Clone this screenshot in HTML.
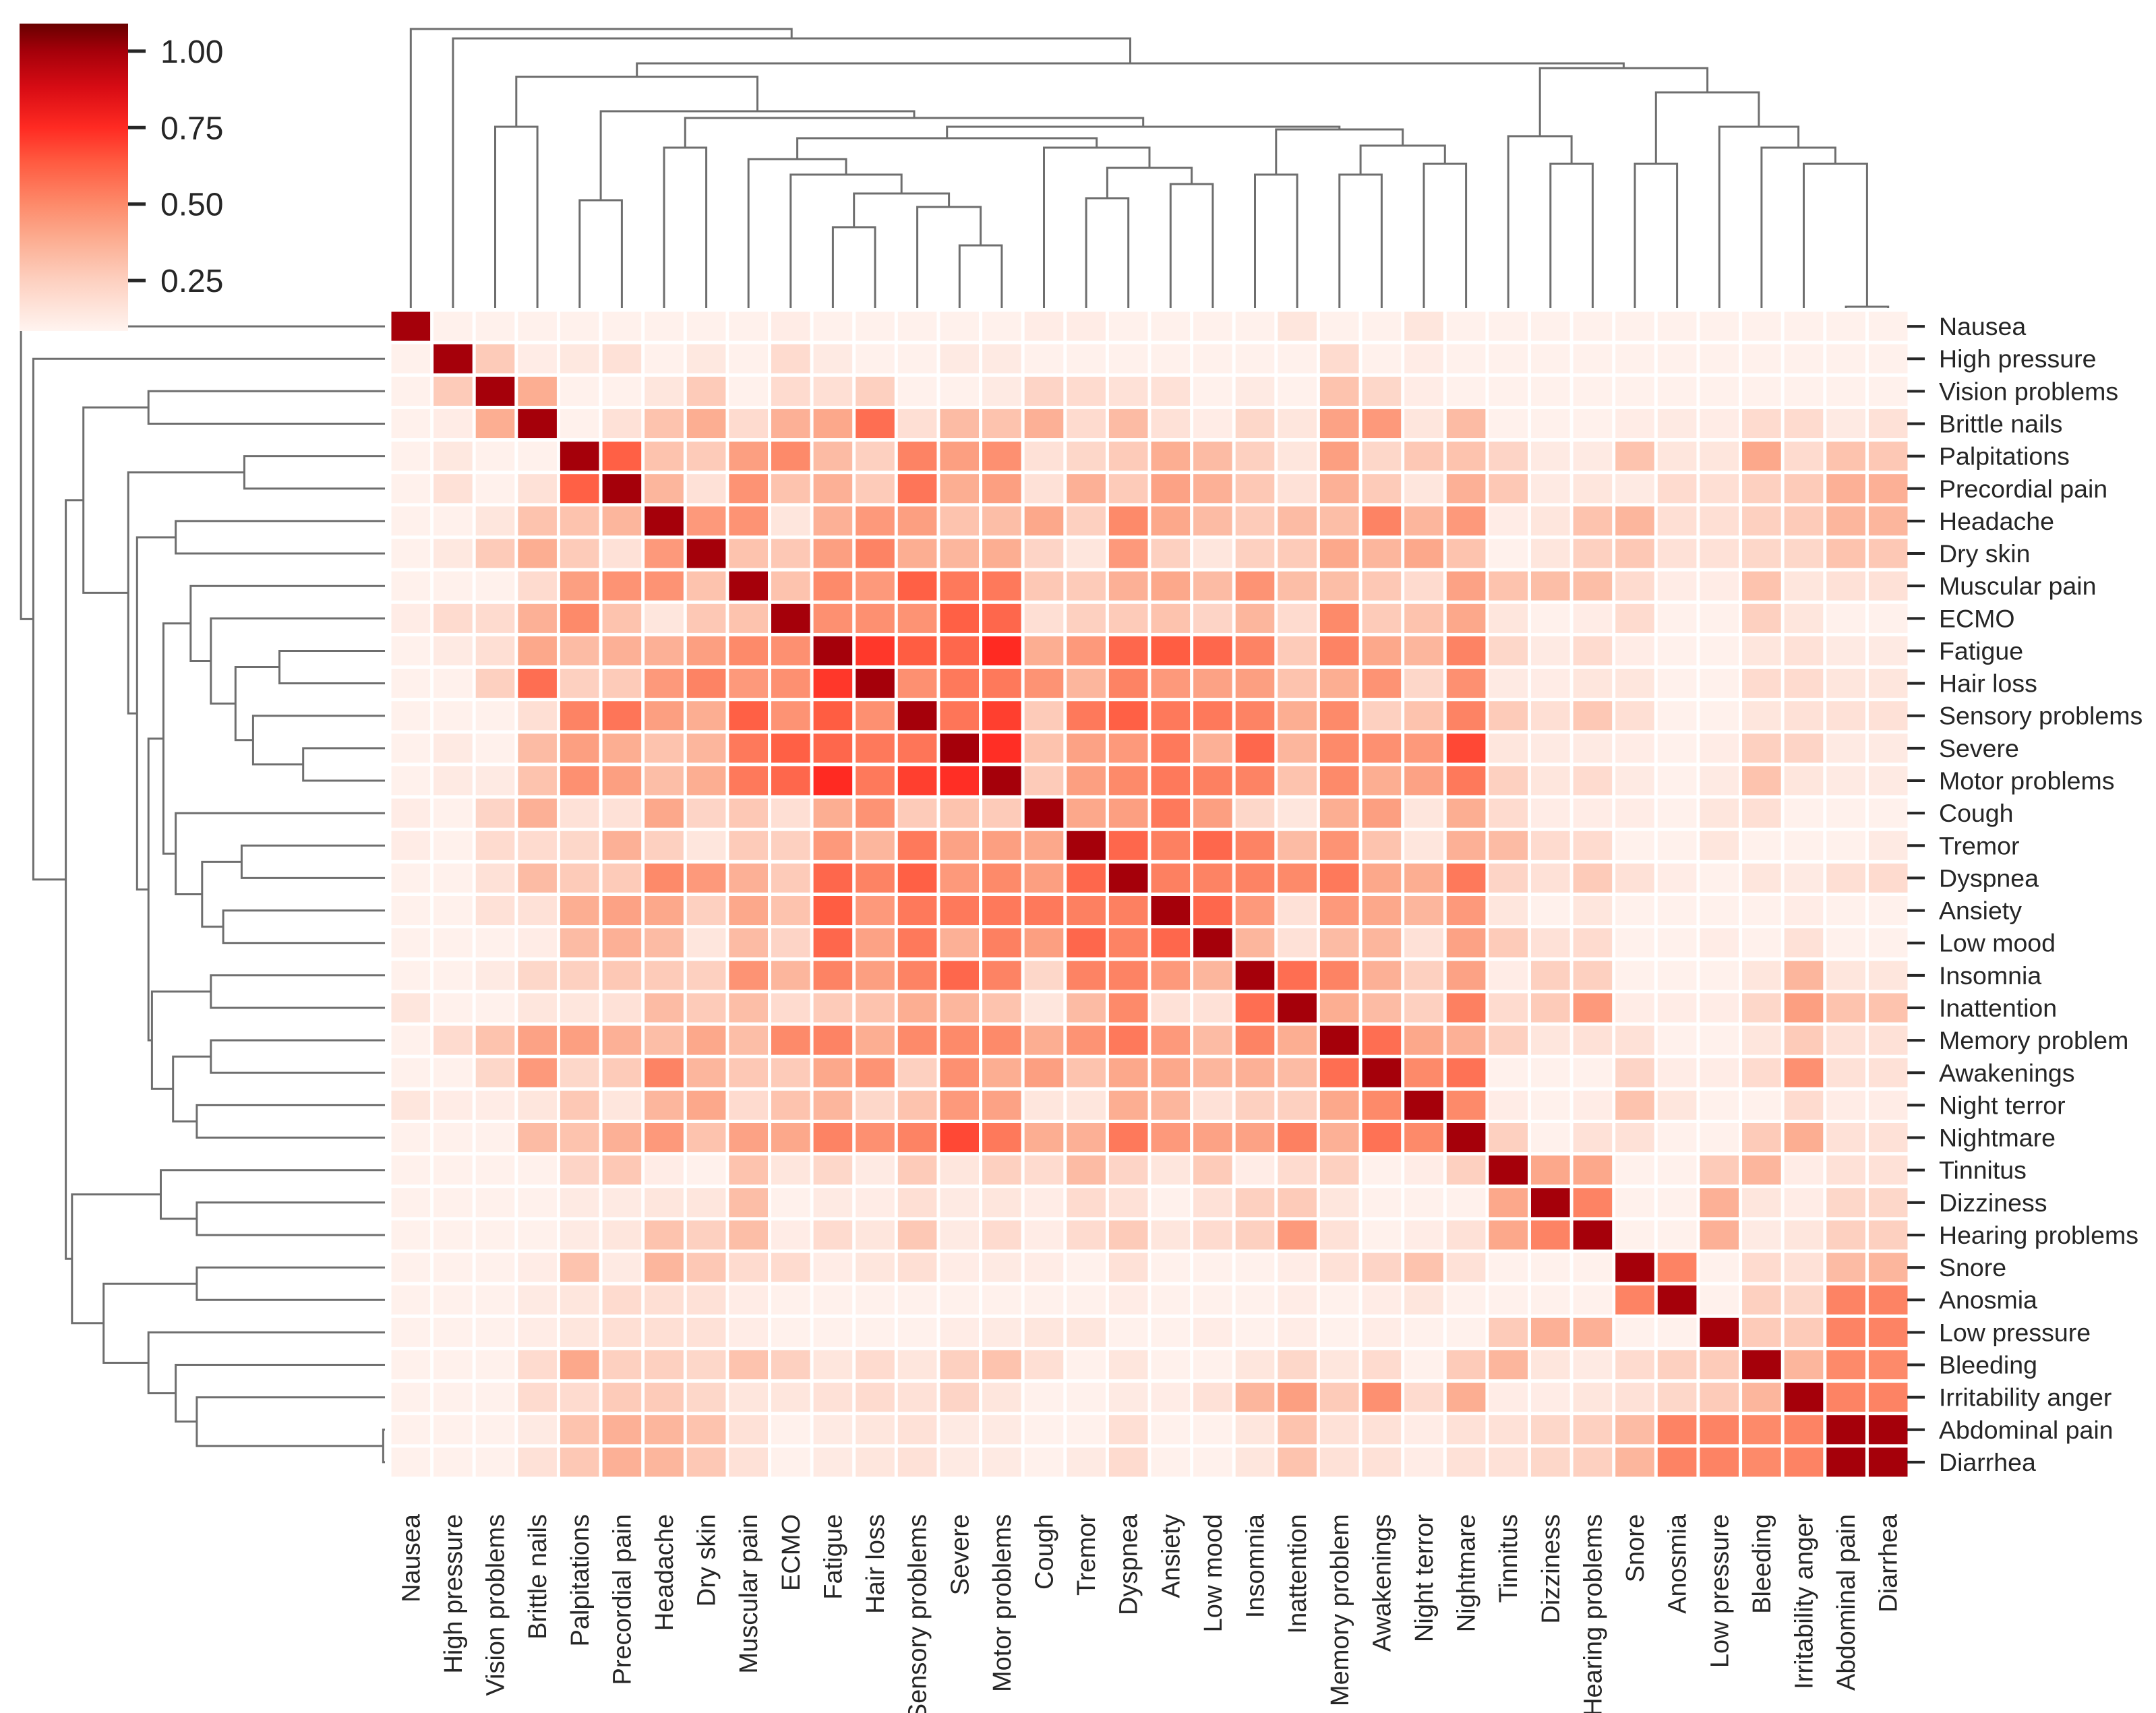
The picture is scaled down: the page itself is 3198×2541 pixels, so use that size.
<!DOCTYPE html>
<html><head><meta charset="utf-8"><title>Clustered correlation heatmap</title>
<style>
html,body{margin:0;padding:0;background:#fff;}
svg{display:block;font-family:"Liberation Sans",Arial,sans-serif;}
</style></head>
<body>
<svg id="chart" width="3198" height="2541" viewBox="0 0 3198 2541" xmlns="http://www.w3.org/2000/svg">
<defs>
<linearGradient id="cbgrad" x1="0" y1="1" x2="0" y2="0">
<stop offset="0" stop-color="#fff4f0"/>
<stop offset="0.164" stop-color="#fdd0c0"/>
<stop offset="0.30" stop-color="#fcac90"/>
<stop offset="0.413" stop-color="#fd8a6a"/>
<stop offset="0.55" stop-color="#ff5a40"/>
<stop offset="0.662" stop-color="#ff2a22"/>
<stop offset="0.79" stop-color="#d80c14"/>
<stop offset="0.91" stop-color="#a5000a"/>
<stop offset="1" stop-color="#680000"/>
</linearGradient>
</defs>
<g id="dendro-top"></g>
<g id="dendro-left"></g>
<g id="cells"></g>
<g id="rowlabels"></g>
<g id="collabels"></g>
<g id="colorbar"></g>
</svg>
<script>
const labels = ["Nausea","High pressure","Vision problems","Brittle nails","Palpitations","Precordial pain","Headache","Dry skin","Muscular pain","ECMO","Fatigue","Hair loss","Sensory problems","Severe","Motor problems","Cough","Tremor","Dyspnea","Ansiety","Low mood","Insomnia","Inattention","Memory problem","Awakenings","Night terror","Nightmare","Tinnitus","Dizziness","Hearing problems","Snore","Anosmia","Low pressure","Bleeding","Irritability anger","Abdominal pain","Diarrhea"];

const lowerRows = [
[],
[.10],
[.10,.27],
[.10,.12,.38],
[.10,.14,.10,.10],
[.10,.17,.10,.17,.62],
[.10,.10,.15,.30,.30,.35],
[.10,.14,.27,.38,.27,.17,.45],
[.10,.10,.10,.20,.43,.47,.47,.30],
[.12,.20,.20,.37,.50,.30,.15,.28,.30],
[.10,.13,.18,.40,.33,.37,.37,.43,.50,.48],
[.10,.10,.25,.58,.25,.27,.45,.52,.45,.48,.72],
[.10,.10,.10,.18,.52,.56,.43,.38,.62,.47,.63,.48],
[.10,.13,.10,.33,.43,.38,.30,.35,.55,.62,.60,.55,.56],
[.10,.13,.13,.30,.48,.43,.32,.38,.55,.60,.75,.55,.70,.74],
[.12,.10,.23,.37,.17,.17,.40,.23,.28,.18,.38,.47,.27,.30,.27],
[.12,.10,.20,.20,.22,.37,.25,.15,.27,.25,.45,.35,.55,.42,.43,.40],
[.10,.10,.17,.33,.27,.27,.50,.45,.37,.27,.60,.52,.62,.45,.50,.43,.60],
[.10,.10,.17,.17,.38,.42,.40,.25,.40,.30,.63,.45,.55,.55,.55,.55,.53,.53],
[.10,.10,.10,.12,.33,.37,.33,.15,.33,.23,.60,.42,.55,.37,.53,.43,.60,.52,.60],
[.10,.10,.13,.22,.25,.28,.27,.25,.47,.35,.52,.43,.52,.60,.52,.22,.52,.52,.45,.35],
[.15,.10,.10,.15,.15,.17,.33,.27,.32,.20,.27,.30,.38,.35,.30,.15,.33,.50,.17,.17,.58],
[.10,.20,.30,.42,.43,.37,.32,.40,.32,.50,.52,.38,.50,.50,.50,.38,.47,.55,.45,.33,.52,.38],
[.10,.10,.22,.45,.22,.27,.52,.35,.28,.27,.40,.47,.25,.48,.38,.43,.30,.40,.40,.35,.37,.33,.58],
[.15,.12,.12,.15,.28,.15,.35,.40,.20,.30,.35,.22,.30,.45,.42,.15,.15,.38,.35,.17,.25,.25,.40,.50],
[.10,.10,.10,.33,.30,.37,.45,.30,.42,.40,.52,.48,.52,.68,.55,.38,.37,.55,.45,.42,.42,.53,.37,.57,.50],
[.10,.10,.10,.10,.23,.28,.12,.10,.30,.15,.22,.13,.27,.15,.25,.20,.33,.23,.15,.27,.12,.20,.25,.10,.12,.25],
[.10,.10,.10,.10,.13,.13,.15,.15,.32,.10,.13,.12,.18,.13,.15,.12,.20,.17,.10,.17,.25,.27,.15,.10,.10,.10,.40],
[.10,.10,.10,.10,.13,.15,.30,.25,.32,.12,.20,.15,.28,.13,.20,.12,.20,.27,.15,.20,.25,.45,.17,.10,.12,.17,.40,.52],
[.10,.10,.10,.12,.30,.13,.35,.28,.20,.20,.12,.15,.18,.12,.13,.12,.10,.17,.10,.10,.10,.12,.17,.23,.30,.17,.10,.10,.10],
[.10,.10,.10,.13,.15,.20,.18,.17,.12,.10,.10,.10,.10,.10,.10,.10,.10,.12,.10,.10,.10,.12,.10,.12,.15,.10,.10,.10,.10,.52],
[.10,.10,.10,.12,.15,.18,.18,.17,.12,.10,.10,.10,.10,.12,.13,.15,.15,.10,.10,.12,.10,.12,.10,.12,.10,.10,.27,.37,.37,.10,.10],
[.10,.10,.10,.20,.40,.25,.25,.22,.30,.25,.15,.20,.15,.25,.30,.18,.10,.15,.10,.10,.15,.22,.15,.20,.10,.27,.35,.15,.13,.20,.25,.27],
[.10,.10,.10,.20,.20,.27,.27,.22,.15,.15,.17,.20,.17,.23,.15,.10,.10,.13,.12,.17,.35,.43,.27,.48,.20,.38,.12,.12,.15,.17,.22,.27,.35],
[.10,.10,.10,.13,.30,.37,.35,.30,.17,.10,.13,.15,.17,.13,.13,.10,.10,.18,.10,.10,.15,.30,.17,.17,.12,.17,.17,.22,.25,.33,.52,.52,.50,.52],
[.10,.10,.10,.17,.28,.37,.35,.28,.17,.10,.13,.15,.17,.13,.13,.10,.13,.20,.10,.10,.15,.30,.17,.17,.12,.17,.17,.22,.25,.35,.52,.52,.50,.52,1.0]
];

// linkage: [childA, childB], with distance in mergeHeights; leaves 0..35, internal nodes 36+
const mergePairs = [[34,35],[13,14],[10,11],[12,37],[4,5],[16,17],[38,39],[18,19],[9,42],[20,21],[22,23],[41,43],[24,25],[27,28],[29,30],[33,36],[8,44],[6,7],[15,47],[46,48],[32,51],[52,54],[26,49],[45,55],[57,59],[31,56],[2,3],[53,60],[40,63],[50,61],[62,64],[58,65],[66,67],[1,68],[0,69]];
const mergeHeights = [0.02,0.93,1.20,1.50,1.60,1.63,1.70,1.84,1.98,1.98,1.98,2.08,2.14,2.14,2.14,2.14,2.21,2.38,2.38,2.41,2.38,2.52,2.55,2.65,2.69,2.69,2.69,2.82,2.92,3.20,3.43,3.56,3.63,4.00,4.14];

const cbTicks = [0.25,0.50,0.75,1.00];
const cbTickLabels = ["0.25","0.50","0.75","1.00"];

// ---- layout ----
const NS="http://www.w3.org/2000/svg";
const N = labels.length;
const X0=578, X1=2832, Y0=460, Y1=2193;
const CW=(X1-X0)/N, CH=(Y1-Y0)/N, GAP=5;
const VMIN=0.085, VMAX=1.09;
const colX = j => X0 + (j+0.5)*CW;
const rowY = i => Y0 + (i+0.5)*CH;
const topY = d => 457 - d*100;
const leftX = d => 571 - d*130.4;
const cbTop=35, cbBot=491;
const cbY = v => cbBot - (v-VMIN)/(VMAX-VMIN)*(cbBot-cbTop);

const stops=[[0,[255,244,240]],[0.164,[253,208,192]],[0.30,[252,172,144]],[0.413,[253,138,106]],[0.55,[255,90,64]],[0.662,[255,42,34]],[0.79,[216,12,20]],[0.91,[165,0,10]],[1,[104,0,0]]];
function cmap(v){
  let t=Math.max(0,Math.min(1,(v-VMIN)/(VMAX-VMIN)));
  for(let k=1;k<stops.length;k++){
    if(t<=stops[k][0]){
      const a=stops[k-1],b=stops[k],f=(t-a[0])/(b[0]-a[0]);
      const c=a[1].map((x,q)=>Math.round(x+(b[1][q]-x)*f));
      return `rgb(${c[0]},${c[1]},${c[2]})`;
    }
  }
  return "rgb(104,0,0)";
}
function mk(tag,attrs,parent){const e=document.createElementNS(NS,tag);for(const k in attrs)e.setAttribute(k,attrs[k]);parent.appendChild(e);return e;}

// matrix
const M=[];
for(let i=0;i<N;i++){M.push([]);for(let j=0;j<N;j++){
  if(i===j)M[i].push(1);else if(j<i)M[i].push(lowerRows[i][j]);else M[i].push(lowerRows[j][i]);
}}

// cells
const gCells=document.getElementById('cells');
for(let i=0;i<N;i++)for(let j=0;j<N;j++){
  const r=mk('rect',{x:(X0+j*CW+GAP/2).toFixed(1),y:(Y0+i*CH+GAP/2).toFixed(1),width:(CW-GAP).toFixed(1),height:(CH-GAP).toFixed(1),fill:cmap(M[i][j])},gCells);
  
  
}

// dendrograms
function nodePos(){
  const pos={},h={};
  for(let k=0;k<N;k++){pos[k]=k;h[k]=0;}
  mergePairs.forEach((p,m)=>{const id=N+m;pos[id]=(pos[p[0]]+pos[p[1]])/2;h[id]=mergeHeights[m];});
  return {pos,h};
}
const {pos,h}=nodePos();
const lineStyle={stroke:"#6e6e6e","stroke-width":3,fill:"none"};
const gTop=document.getElementById('dendro-top');
const gLeft=document.getElementById('dendro-left');
const leafPx = p => X0 + (p+0.5)*CW;
const leafPy = p => Y0 + (p+0.5)*CH;
mergePairs.forEach((p,m)=>{
  const d=mergeHeights[m];
  const a=p[0],b=p[1];
  const pt=`M${leafPx(pos[a]).toFixed(1)},${topY(h[a]).toFixed(1)} V${topY(d).toFixed(1)} H${leafPx(pos[b]).toFixed(1)} V${topY(h[b]).toFixed(1)}`;
  const e1=mk('path',Object.assign({d:pt},lineStyle),gTop);
  
  
  const pl=`M${leftX(h[a]).toFixed(1)},${leafPy(pos[a]).toFixed(1)} H${leftX(d).toFixed(1)} V${leafPy(pos[b]).toFixed(1)} H${leftX(h[b]).toFixed(1)}`;
  const e2=mk('path',Object.assign({d:pl},lineStyle),gLeft);
  
  
});

// row labels + ticks
const gRL=document.getElementById('rowlabels');
const gCL=document.getElementById('collabels');
labels.forEach((lab,i)=>{
  const tk=mk('line',{x1:2829,x2:2855,y1:rowY(i),y2:rowY(i),stroke:"#262626","stroke-width":4},gRL);
  
  
  const t=mk('text',{x:2876,y:(rowY(i)+13).toFixed(1),"font-size":37.5,fill:"#262626"},gRL);
  t.textContent=lab;
  
  
  const cx=colX(i)+13;
  const c=mk('text',{x:0,y:0,"font-size":38,fill:"#262626","text-anchor":"end",transform:`translate(${cx.toFixed(1)},2246) rotate(-90)`},gCL);
  c.textContent=lab;
  
  
});

// colorbar
const gCB=document.getElementById('colorbar');
const cbr=mk('rect',{x:29,y:cbTop,width:161,height:cbBot-cbTop,fill:"url(#cbgrad)"},gCB);


cbTicks.forEach((v,k)=>{
  const y=cbY(v);
  const l=mk('line',{x1:190,x2:216,y1:y,y2:y,stroke:"#262626","stroke-width":5},gCB);
  
  
  const t=mk('text',{x:238,y:(y+17).toFixed(1),"font-size":48,fill:"#262626"},gCB);
  t.textContent=cbTickLabels[k];
  
  
});
</script>
</body></html>
